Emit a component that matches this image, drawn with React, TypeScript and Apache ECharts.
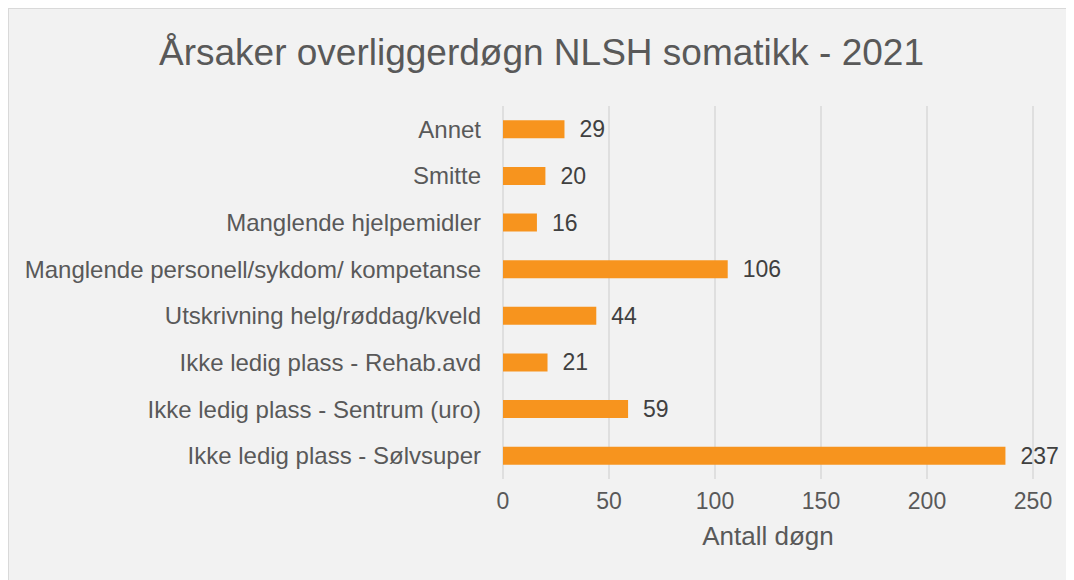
import React, { useEffect, useRef } from "react";
import * as echarts from "echarts";

const categories = [
  "Ikke ledig plass - Sølvsuper",
  "Ikke ledig plass - Sentrum (uro)",
  "Ikke ledig plass - Rehab.avd",
  "Utskrivning helg/røddag/kveld",
  "Manglende personell/sykdom/ kompetanse",
  "Manglende hjelpemidler",
  "Smitte",
  "Annet",
];
const values = [237, 59, 21, 44, 106, 16, 20, 29];
const titleText = "Årsaker overliggerdøgn NLSH somatikk - 2021";
const xAxisName = "Antall døgn";

export default function App() {
  const ref = useRef<HTMLDivElement>(null);
  useEffect(() => {
    if (!ref.current) return;
    const chart = echarts.init(ref.current, null, { renderer: "svg" });
    const font = "'Liberation Sans', Arial, sans-serif";
    chart.setOption({
      animation: false,
      backgroundColor: "#f2f2f2",
      title: {
        text: titleText,
        left: "center",
        top: 20,
        textStyle: { fontFamily: font, fontSize: 37, fontWeight: "normal", color: "#595959" },
      },
      grid: { left: 494, right: 41, top: 97, bottom: 101, containLabel: false },
      xAxis: {
        type: "value",
        min: 0,
        max: 250,
        interval: 50,
        name: xAxisName,
        nameLocation: "middle",
        nameGap: 44,
        nameTextStyle: { fontFamily: font, fontSize: 26, color: "#595959" },
        axisLine: { show: false },
        axisTick: { show: false },
        axisLabel: { fontFamily: font, fontSize: 23, color: "#595959", margin: 10 },
        splitLine: { show: true, lineStyle: { color: "#d9d9d9", width: 1.5 } },
      },
      yAxis: {
        type: "category",
        data: categories,
        axisLine: { show: false },
        axisTick: { show: false },
        axisLabel: { fontFamily: font, fontSize: 24, color: "#595959", margin: 22 },
        splitLine: { show: false },
      },
      series: [
        {
          type: "bar",
          data: values,
          barWidth: 18,
          itemStyle: { color: "#f7941e" },
          label: {
            show: true,
            position: "right",
            distance: 15,
            fontFamily: font,
            fontSize: 23,
            color: "#404040",
          },
        },
      ],
    });
    return () => chart.dispose();
  }, []);
  return (
    <div
      style={{
        width: 1066,
        height: 572,
        boxSizing: "border-box",
        borderTop: "1px solid #d9d9d9",
        borderLeft: "1px solid #d9d9d9",
        background: "#f2f2f2",
      }}
    >
      <div ref={ref} style={{ width: 1065, height: 571 }} />
    </div>
  );
}
